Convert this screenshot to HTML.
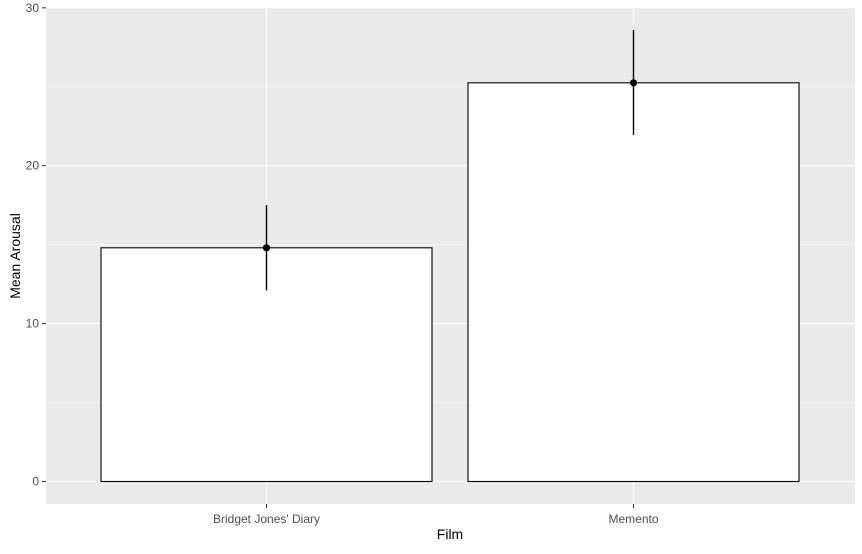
<!DOCTYPE html>
<html><head><meta charset="utf-8"><style>
body{margin:0;background:#fff;}
svg text{font-family:"Liberation Sans",Arial,sans-serif;}
</style></head><body>
<svg id="chart" width="862" height="549" xmlns="http://www.w3.org/2000/svg">
<rect x="46" y="8" width="809" height="496" fill="#ebebeb"/>
<g id="grid"></g><g id="bars"></g><g id="axes"></g>
<text x="450" y="539" font-size="14" text-anchor="middle" fill="#000">Film</text>
<text transform="translate(20,256) rotate(-90)" font-size="14" text-anchor="middle" fill="#000">Mean Arousal</text>
</svg>
<script>
const categories = ["Bridget Jones' Diary", "Memento"];
const means = [14.8, 25.25];
const lowers = [12.1, 21.95];
const uppers = [17.5, 28.6];
const yTicks = [0, 10, 20, 30];

const NS = "http://www.w3.org/2000/svg";
const y = v => 481.5 - v * 15.79;
const xc = i => 266.5 + i * 367;
const bw = 331;
function mk(tag, attrs, parent){const e=document.createElementNS(NS,tag);for(const k in attrs)e.setAttribute(k,attrs[k]);parent.appendChild(e);return e;}
const grid=document.getElementById('grid'), bars=document.getElementById('bars'), axes=document.getElementById('axes');
for(let t=0;t<yTicks.length;t++){
  const v=yTicks[t];
  const g=mk('line',{x1:46,x2:855,y1:y(v),y2:y(v),stroke:'#fff','stroke-width':1.1},grid);
  
  
  if(t<yTicks.length-1){
    const m=mk('line',{x1:46,x2:855,y1:y(v+5),y2:y(v+5),stroke:'#fff','stroke-width':0.5},grid);
    
    
  }
  const tk=mk('line',{x1:42,x2:46,y1:y(v),y2:y(v),stroke:'#333'},axes);
  
  
  const tl=mk('text',{x:39,y:y(v)+4,'font-size':12,'text-anchor':'end',fill:'#4d4d4d'},axes);
  tl.textContent=v;
  
  
}
categories.forEach((c,i)=>{
  const g=mk('line',{x1:xc(i),x2:xc(i),y1:8,y2:504,stroke:'#fff','stroke-width':1.1},grid);
  
  
  const b=mk('rect',{x:xc(i)-bw/2,y:y(means[i]),width:bw,height:y(0)-y(means[i]),fill:'#fff',stroke:'#000','stroke-width':1.1},bars);
  
  
  const e=mk('line',{x1:xc(i),x2:xc(i),y1:y(uppers[i]),y2:y(lowers[i]),stroke:'#000','stroke-width':1.4},bars);
  
  
  const p=mk('circle',{cx:xc(i),cy:y(means[i]),r:3.6,fill:'#000'},bars);
  
  
  const tk=mk('line',{x1:xc(i),x2:xc(i),y1:504,y2:508,stroke:'#333'},axes);
  
  
  const tl=mk('text',{x:xc(i),y:523,'font-size':12,'text-anchor':'middle',fill:'#4d4d4d'},axes);
  tl.textContent=c;
  
  
});
</script>
</body></html>
